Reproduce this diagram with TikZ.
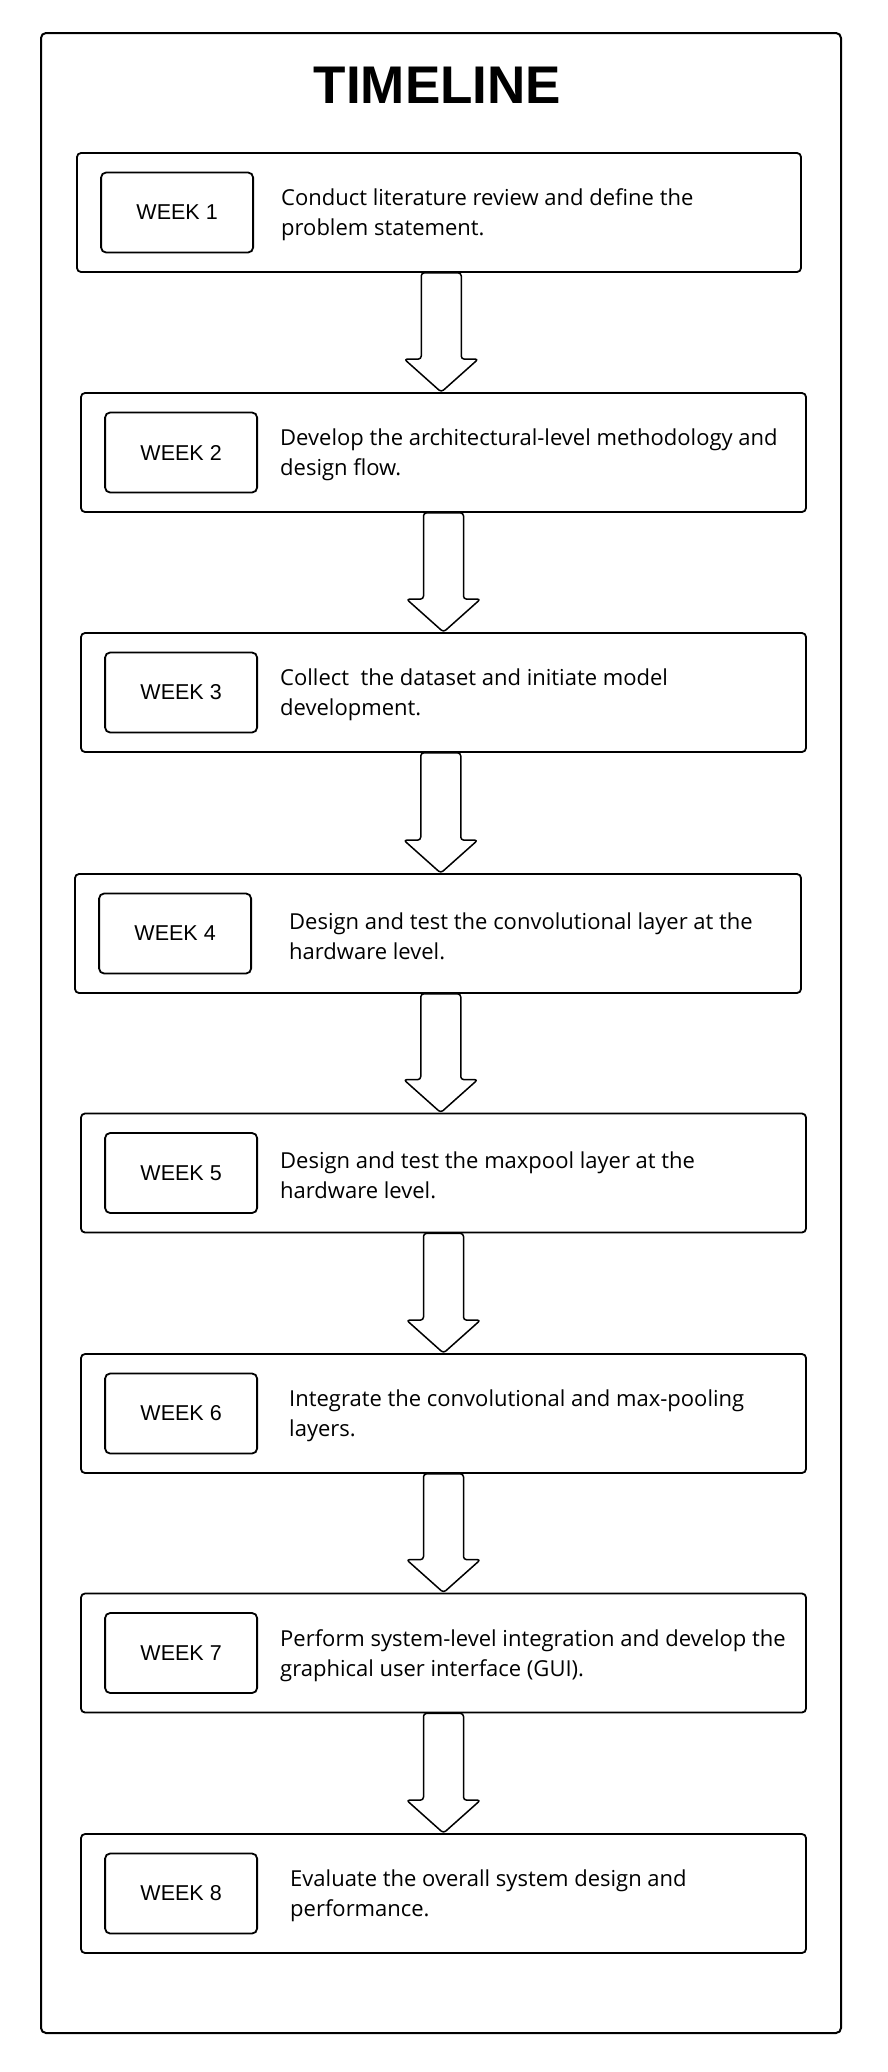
\documentclass[tikz,border=0pt]{standalone}
\usepackage{fontspec}
\setmainfont{Liberation Sans}
\newfontfamily\descfont{Open Sans}
\usetikzlibrary{calc}
\tikzset{
  frame/.style={draw, line width=2pt, rounded corners=5pt, minimum width=800pt, minimum height=2000pt, inner sep=0pt},
  titletext/.style={font=\fontsize{53}{60}\selectfont\bfseries, inner sep=0pt},
  weekbox/.style={draw, line width=1.8pt, rounded corners=4pt, minimum width=725pt, minimum height=119pt, fill=white, inner sep=0pt},
  weeklabel/.style={draw, line width=1.8pt, rounded corners=5pt, minimum width=152pt, minimum height=80pt, inner sep=0pt, font=\fontsize{21.5}{26}\selectfont},
  desc/.style={anchor=west, align=left, inner sep=0pt, yshift=-2.5pt, font=\descfont\fontsize{22}{30}\selectfont},
  barrow/.style={draw, line width=1.5pt, rounded corners=3pt, fill=white, line join=round}
}
\newcommand\blockarr[2]{%
  \draw[barrow] let \p1=(#1.south), \p2=(#2.north), \n1={(\x1+\x2)/2} in
    (\n1-20pt,\y1) -- (\n1-20pt,\y2+33pt) -- (\n1-37pt,\y2+33pt) -- (\n1,\y2)
    -- (\n1+37pt,\y2+33pt) -- (\n1+20pt,\y2+33pt) -- (\n1+20pt,\y1) -- cycle;}
\begin{document}
\begin{tikzpicture}[x=1pt,y=-1pt]
\useasboundingbox (0,0) rectangle (887,2072);
\fill[white] (0,0) rectangle (887,2072);
\node[frame] (frame) at (441,1033) {};
\node[titletext] (title) at (437.5,85) {TIMELINE};

\node[weekbox, minimum width=724pt] (b1) at (439,212.5) {};
\node[weekbox] (b2) at (443.5,452.5) {};
\node[weekbox] (b3) at (443.5,692.5) {};
\node[weekbox, minimum width=726pt] (b4) at (438,933.5) {};
\node[weekbox] (b5) at (443.5,1173) {};
\node[weekbox] (b6) at (443.5,1413.5) {};
\node[weekbox] (b7) at (443.5,1653) {};
\node[weekbox] (b8) at (443.5,1893.5) {};

\node[weeklabel] (w1) at ($(b1.west)+(101pt,0)$) {WEEK 1};
\node[weeklabel] (w2) at ($(b2.west)+(101pt,0)$) {WEEK 2};
\node[weeklabel] (w3) at ($(b3.west)+(101pt,0)$) {WEEK 3};
\node[weeklabel] (w4) at ($(b4.west)+(101pt,0)$) {WEEK 4};
\node[weeklabel] (w5) at ($(b5.west)+(101pt,0)$) {WEEK 5};
\node[weeklabel] (w6) at ($(b6.west)+(101pt,0)$) {WEEK 6};
\node[weeklabel] (w7) at ($(b7.west)+(101pt,0)$) {WEEK 7};
\node[weeklabel] (w8) at ($(b8.west)+(101pt,0)$) {WEEK 8};

\node[desc] (d1) at (281,212.5) {Conduct literature review and define the\\problem statement.};
\node[desc] (d2) at (280,452.5) {Develop the architectural-level methodology and\\design flow.};
\node[desc] (d3) at (280,692.5) {Collect~ the dataset and initiate model\\development.};
\node[desc] (d4) at (289,933.5) {Design and test the convolutional layer at the\\hardware level.};
\node[desc] (d5) at (280,1173) {Design and test the maxpool layer at the\\hardware level.};
\node[desc] (d6) at (289,1413.5) {Integrate the convolutional and max-pooling\\layers.};
\node[desc] (d7) at (280,1653) {Perform system-level integration and develop the\\graphical user interface (GUI).};
\node[desc] (d8) at (290,1893.5) {Evaluate the overall system design and\\performance.};

\blockarr{b1}{b2}
\blockarr{b2}{b3}
\blockarr{b3}{b4}
\blockarr{b4}{b5}
\blockarr{b5}{b6}
\blockarr{b6}{b7}
\blockarr{b7}{b8}
\end{tikzpicture}
\end{document}
